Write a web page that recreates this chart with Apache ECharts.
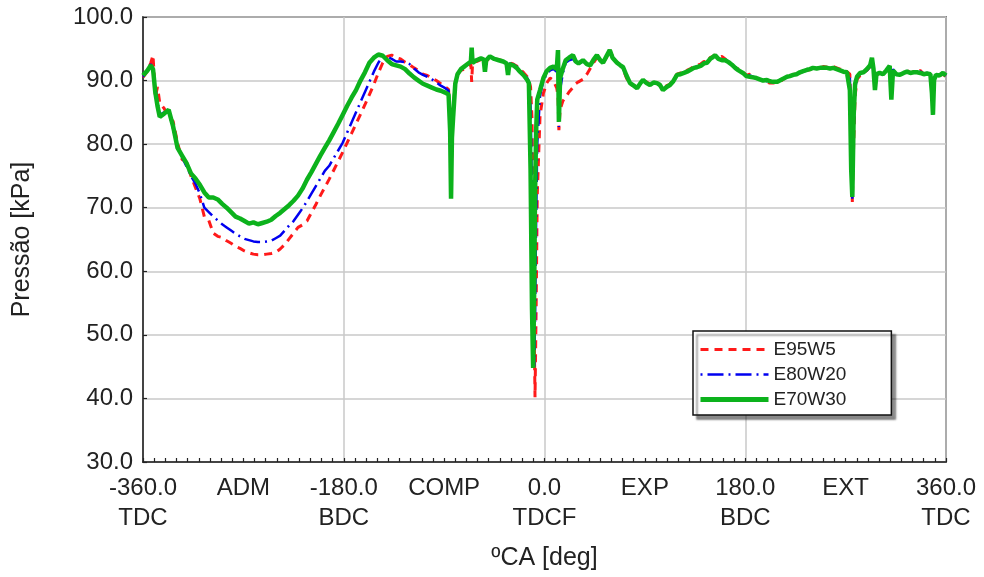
<!DOCTYPE html>
<html>
<head>
<meta charset="utf-8">
<script src="https://cdn.jsdelivr.net/npm/echarts@6/dist/echarts.min.js"></script>
<style>
  html, body { margin: 0; padding: 0; background: #fff; }
  #chart { width: 984px; height: 577px; }
</style>
</head>
<body>
<div id="chart"></div>
<script>
// Crank angle [deg] shared by the three fuel blends
const crankAngle = [
  -360, -356, -353, -351, -349, -347, -345, -341, -337, -333, -329, -325, -321, -317, -313, -309,
  -305, -301, -297, -293, -289, -285, -281, -277, -273, -269, -265, -261, -257, -253, -249, -245,
  -241, -237, -233, -229, -225, -221, -217, -213, -209, -205, -201, -197, -193, -189, -185, -181,
  -177, -173, -169, -165, -161, -157, -153, -149, -145, -141, -137, -133, -129, -125, -121, -117,
  -113, -109, -105, -101, -97, -93, -89, -86, -84.6, -83.8, -83, -82, -80, -78, -75, -72,
  -69, -66, -65.3, -64.5, -61, -57, -54.5, -53.4, -52.3, -49, -45, -41, -37, -34, -32.7, -31.5,
  -28, -25, -22, -18.5, -15.5, -14, -12.5, -11.2, -10.2, -9.2, -8.5, -7.5, -6.5, -4, -1, 2,
  5, 8, 11, 12.1, 12.9, 14, 16.5, 19, 22, 25.5, 28, 30.5, 34.5, 38, 41, 44,
  47, 50, 52.5, 55.5, 58.5, 61, 65, 68, 70.5, 73.5, 76.7, 80, 83, 86, 88.3, 91.5,
  94.6, 97.8, 100.9, 103.6, 106.2, 109.5, 112.5, 115.5, 118.8, 122, 125, 127.8, 131, 134, 136.7, 140,
  143, 145.7, 148.5, 151, 153, 156, 159, 162, 165, 168, 171, 174, 177.9, 181, 184, 187,
  190, 193, 196, 199.5, 202, 205, 208.5, 211, 214, 217.4, 220, 223, 226, 229, 232, 235.4,
  238, 240.7, 244, 247, 250, 253.3, 256, 259, 262, 265, 268, 271.2, 273.8, 275, 276, 277.2,
  278.5, 280.2, 283, 286, 289, 292, 293.6, 295, 296.3, 297.6, 300.5, 303.5, 306.5, 309.5, 311, 312.5,
  315.5, 318.7, 322, 325, 328, 331, 334, 337, 340, 343, 346, 347.4, 348.3, 349.3, 351, 354,
  357.3, 360
];

// Cylinder pressure [kPa], E95W5
const e95w5 = [
  90.5, 91.5, 92.8, 94.0, 87.4, 89.0, 86.5, 85.6, 84.2, 83.6, 80.2, 77.6, 77.2, 75.0, 73.2, 71.4,
  68.6, 68.0, 66.0, 65.5, 65.3, 64.8, 64.4, 63.9, 63.6, 63.2, 62.9, 62.7, 62.6, 62.6, 62.7, 62.8,
  63.0, 63.5, 64.2, 65.1, 66.0, 66.9, 67.3, 67.9, 69.2, 70.5, 71.9, 73.2, 74.5, 75.9, 77.3, 78.7,
  80.2, 81.7, 83.2, 84.7, 86.2, 87.8, 89.4, 91.2, 92.8, 93.8, 94.0, 93.6, 93.4, 92.9, 92.5, 92.0,
  91.6, 91.0, 90.8, 90.4, 90.0, 89.5, 89.0, 88.6, 84.0, 72.5, 80.0, 85.5, 89.8, 91.0, 91.6, 91.8,
  92.2, 92.6, 89.8, 92.6, 93.0, 93.3, 93.3, 92.4, 93.0, 93.6, 93.4, 93.3, 93.1, 92.9, 91.8, 92.8,
  92.6, 92.3, 91.8, 91.2, 90.6, 90.0, 89.0, 84.0, 70.0, 50.0, 40.2, 54.0, 72.0, 84.5, 88.0, 89.6,
  90.4, 90.0, 88.8, 87.6, 82.2, 85.4, 86.8, 87.4, 88.2, 88.9, 89.5, 89.8, 90.2, 91.0, 91.9, 92.8,
  93.6, 93.2, 92.8, 93.6, 94.8, 93.8, 92.9, 92.4, 91.8, 90.4, 89.4, 89.2, 89.0, 89.6, 90.0, 89.8,
  89.4, 89.8, 89.6, 89.2, 88.8, 89.2, 89.4, 90.2, 91.0, 91.2, 91.0, 91.6, 91.9, 92.2, 92.4, 92.6,
  93.0, 92.9, 93.6, 93.8, 94.0, 93.6, 93.8, 93.4, 92.8, 92.4, 92.0, 91.8, 91.4, 90.8, 91.0, 90.6,
  90.4, 90.2, 90.0, 89.8, 89.6, 89.6, 89.8, 89.8, 90.2, 90.6, 90.8, 91.0, 91.0, 91.2, 91.5, 91.6,
  91.7, 92.0, 92.1, 92.0, 92.2, 92.1, 92.0, 92.2, 92.0, 91.8, 91.7, 91.4, 91.0, 82.0, 70.9, 80.0,
  87.5, 90.2, 90.8, 91.2, 91.6, 92.2, 93.2, 91.4, 88.6, 90.8, 91.2, 91.0, 91.6, 92.2, 88.2, 91.6,
  91.0, 90.9, 91.2, 91.6, 91.2, 91.4, 91.3, 91.6, 91.0, 91.2, 90.8, 89.0, 85.6, 90.0, 91.0, 90.8,
  91.0, 90.6
];

// Cylinder pressure [kPa], E80W20
const e80w20 = [
  90.6, 91.4, 92.6, 91.0, 88.8, 86.5, 84.6, 85.0, 85.2, 82.4, 79.6, 78.0, 76.5, 75.0, 73.8, 72.2,
  70.0, 69.3, 68.6, 68.0, 67.4, 66.9, 66.4, 65.9, 65.5, 65.1, 64.9, 64.7, 64.6, 64.6, 64.7, 64.8,
  65.2, 65.6, 66.4, 67.2, 67.9, 68.9, 69.9, 71.0, 72.2, 73.4, 74.6, 75.8, 76.6, 77.8, 79.0, 80.2,
  81.8, 83.4, 85.0, 86.6, 88.2, 89.8, 91.4, 92.8, 93.8, 93.8, 93.4, 93.0, 93.0, 92.9, 92.6, 91.9,
  91.3, 90.9, 90.6, 90.2, 89.7, 89.2, 88.8, 88.4, 83.0, 72.0, 80.5, 85.0, 89.6, 91.2, 91.7, 92.0,
  92.5, 92.9, 94.2, 92.8, 93.1, 93.4, 93.3, 92.0, 93.1, 93.7, 93.4, 93.2, 93.0, 92.8, 91.4, 92.7,
  92.5, 92.2, 91.6, 91.0, 90.4, 89.9, 86.0, 72.0, 56.0, 45.0, 52.0, 68.0, 80.0, 87.6, 90.0, 91.0,
  91.6, 91.8, 91.4, 92.4, 82.7, 88.6, 91.2, 92.8, 93.2, 93.4, 92.9, 92.6, 93.0, 92.6, 92.3, 93.2,
  93.9, 93.3, 92.8, 93.7, 94.6, 93.6, 92.8, 92.4, 91.9, 90.6, 89.6, 89.2, 88.9, 89.6, 90.1, 89.7,
  89.3, 89.6, 89.6, 89.2, 88.6, 89.0, 89.3, 90.0, 90.9, 91.1, 91.2, 91.4, 91.8, 92.1, 92.2, 92.4,
  92.8, 92.8, 93.4, 93.7, 94.0, 93.5, 93.4, 93.3, 92.9, 92.4, 91.9, 91.6, 91.2, 90.6, 90.8, 90.6,
  90.4, 90.2, 90.0, 89.9, 89.7, 89.7, 89.8, 90.0, 90.3, 90.6, 90.7, 90.9, 91.0, 91.2, 91.4, 91.6,
  91.8, 91.9, 91.9, 92.0, 92.1, 92.0, 91.9, 92.0, 91.8, 91.6, 91.5, 91.3, 90.6, 80.0, 71.4, 82.0,
  88.6, 90.5, 91.0, 91.3, 91.6, 92.2, 93.4, 91.6, 88.4, 91.0, 91.2, 90.9, 91.5, 92.2, 87.2, 91.8,
  91.0, 90.9, 91.2, 91.5, 91.3, 91.4, 91.2, 91.4, 91.1, 91.2, 91.0, 88.4, 85.0, 90.2, 90.9, 90.8,
  91.2, 90.8
];

// Cylinder pressure [kPa], E70W30
const e70w30 = [
  90.8, 91.6, 92.4, 91.8, 88.2, 86.0, 84.3, 84.8, 85.4, 82.8, 79.4, 78.2, 77.0, 75.4, 74.6, 73.6,
  72.4, 71.6, 71.6, 71.3, 70.6, 70.0, 69.3, 68.6, 68.3, 67.9, 67.5, 67.7, 67.4, 67.6, 67.8, 68.1,
  68.7, 69.2, 69.8, 70.4, 71.1, 71.9, 73.0, 74.4, 75.6, 76.9, 78.2, 79.4, 80.6, 81.9, 83.2, 84.6,
  86.0, 87.3, 88.5, 90.0, 91.3, 92.8, 93.6, 94.1, 93.9, 93.2, 92.6, 92.4, 92.2, 91.8, 91.1, 90.5,
  90.0, 89.5, 89.2, 88.9, 88.6, 88.4, 88.1, 87.8, 82.0, 71.4, 81.0, 84.0, 89.5, 91.0, 91.8, 92.2,
  92.6, 93.0, 95.2, 92.8, 93.2, 93.5, 93.3, 91.4, 93.2, 93.8, 93.4, 93.2, 93.0, 92.7, 90.9, 92.6,
  92.4, 92.0, 91.4, 90.8, 90.1, 89.6, 76.0, 54.0, 44.8, 58.0, 72.0, 82.0, 87.0, 88.5, 90.4, 91.5,
  92.0, 92.2, 91.8, 94.8, 83.5, 90.4, 91.9, 93.2, 93.6, 94.0, 93.0, 92.7, 93.2, 92.6, 92.4, 93.3,
  94.0, 93.2, 92.8, 93.8, 94.8, 93.6, 92.8, 92.4, 92.1, 90.8, 89.6, 89.2, 88.8, 89.6, 90.1, 89.6,
  89.3, 89.7, 89.6, 89.3, 88.5, 89.0, 89.3, 89.9, 90.9, 91.0, 91.2, 91.4, 91.7, 92.0, 92.1, 92.3,
  92.7, 92.8, 93.4, 93.7, 94.0, 93.4, 93.2, 93.2, 92.9, 92.5, 92.0, 91.6, 91.2, 90.7, 90.6, 90.5,
  90.4, 90.2, 90.0, 90.1, 89.9, 89.8, 89.8, 90.0, 90.3, 90.6, 90.7, 90.9, 91.0, 91.3, 91.5, 91.7,
  91.8, 92.0, 91.9, 92.0, 92.0, 92.0, 91.9, 92.0, 91.8, 91.6, 91.4, 91.3, 88.5, 76.0, 71.7, 84.5,
  89.5, 90.6, 91.2, 91.3, 91.8, 92.4, 93.6, 91.8, 88.5, 91.0, 91.2, 91.0, 91.6, 92.3, 87.0, 91.6,
  91.0, 90.9, 91.2, 91.4, 91.2, 91.3, 91.3, 91.2, 91.0, 91.1, 91.0, 88.0, 84.6, 90.1, 90.9, 90.8,
  91.2, 90.8
];

// Tick labels of the crank-angle axis (value + stroke marker)
const xTickLabels = {
  '-360': '-360.0\nTDC', '-270': 'ADM', '-180': '-180.0\nBDC', '-90': 'COMP',
  '0': '0.0\nTDCF', '90': 'EXP', '180': '180.0\nBDC', '270': 'EXT', '360': '360.0\nTDC'
};

const FONT = 'Liberation Sans, Arial, sans-serif';
const TEXT = '#222';
const GRID = '#c8c8c8';

const RED = '#ff1a1a';
const BLUE = '#0000f0';
const GREEN = '#0cb21c';

function toPoints(values) {
  return crankAngle.map((a, i) => [a, values[i]]);
}

const chart = echarts.init(document.getElementById('chart'), null, { renderer: 'canvas' });

chart.setOption({
  animation: false,
  backgroundColor: '#fff',
  textStyle: { fontFamily: FONT },
  grid: {
    left: 143, right: 38, top: 17, bottom: 115,
    show: true, borderColor: '#222', borderWidth: 1.5, backgroundColor: 'transparent'
  },
  legend: {
    orient: 'vertical',
    left: 693, top: 331,
    itemWidth: 68, itemHeight: 14, itemGap: 0,
    padding: [6, 45, 3, 5],
    backgroundColor: '#fff',
    borderColor: '#111', borderWidth: 1.5,
    shadowColor: 'rgba(0,0,0,0.45)', shadowBlur: 2, shadowOffsetX: 4, shadowOffsetY: 4,
    textStyle: { fontFamily: FONT, fontSize: 19, lineHeight: 25, color: TEXT },
    // line-only keys: hide the marker dot that line series add by default
    itemStyle: { color: 'rgba(0,0,0,0)', borderWidth: 0, opacity: 0 },
    data: [
      { name: 'E95W5', lineStyle: { color: RED, width: 3, type: [8, 6] } },
      { name: 'E80W20', lineStyle: { color: BLUE, width: 2.5, type: [2, 5, 16, 5] } },
      { name: 'E70W30', lineStyle: { color: GREEN, width: 5, type: 'solid' } }
    ]
  },
  xAxis: [
    {
      type: 'value', min: -360, max: 360, interval: 90, position: 'bottom',
      name: 'ºCA [deg]', nameLocation: 'middle', nameGap: 84,
      nameTextStyle: { fontFamily: FONT, fontSize: 25, color: TEXT },
      axisLine: { show: true, onZero: false, lineStyle: { color: '#222', width: 1.5 } },
      axisTick: { show: true, inside: true, length: 4, lineStyle: { color: '#222', width: 1.2 } },
      minorTick: { show: true, splitNumber: 9, length: 4, lineStyle: { color: '#222', width: 1.2 } },
      axisLabel: {
        fontFamily: FONT, fontSize: 24, lineHeight: 30, margin: 11, color: TEXT,
        formatter: v => xTickLabels[String(v)] || ''
      },
      splitLine: { show: false }
    },
    {
      // vertical grid every 180 deg (TDC / BDC)
      type: 'value', min: -360, max: 360, interval: 180, position: 'bottom',
      axisLine: { show: false }, axisTick: { show: false }, axisLabel: { show: false },
      splitLine: { show: true, lineStyle: { color: GRID, width: 1.5 } }
    }
  ],
  yAxis: {
    type: 'value', min: 30, max: 100, interval: 10,
    name: 'Pressão [kPa]', nameLocation: 'middle', nameGap: 108,
    nameTextStyle: { fontFamily: FONT, fontSize: 25, color: TEXT },
    axisLine: { show: true, onZero: false, lineStyle: { color: '#222', width: 1.5 } },
    axisTick: { show: true, inside: true, length: 4, lineStyle: { color: '#222', width: 1.2 } },
    axisLabel: {
      fontFamily: FONT, fontSize: 24, margin: 10, color: TEXT,
      formatter: v => v.toFixed(1)
    },
    splitLine: { show: true, lineStyle: { color: GRID, width: 1.5 } }
  },
  series: [
    {
      name: 'E95W5', type: 'line', xAxisIndex: 0, data: toPoints(e95w5),
      symbol: 'none', showSymbol: false,
      itemStyle: { color: RED },
      lineStyle: { color: RED, width: 3, type: [8, 6] }
    },
    {
      name: 'E80W20', type: 'line', xAxisIndex: 0, data: toPoints(e80w20),
      symbol: 'none', showSymbol: false,
      itemStyle: { color: BLUE },
      lineStyle: { color: BLUE, width: 2.5, type: [2, 5, 16, 5] }
    },
    {
      name: 'E70W30', type: 'line', xAxisIndex: 0, data: toPoints(e70w30),
      symbol: 'none', showSymbol: false,
      itemStyle: { color: GREEN },
      lineStyle: { color: GREEN, width: 4.5 }
    }
  ]
});
</script>
</body>
</html>
